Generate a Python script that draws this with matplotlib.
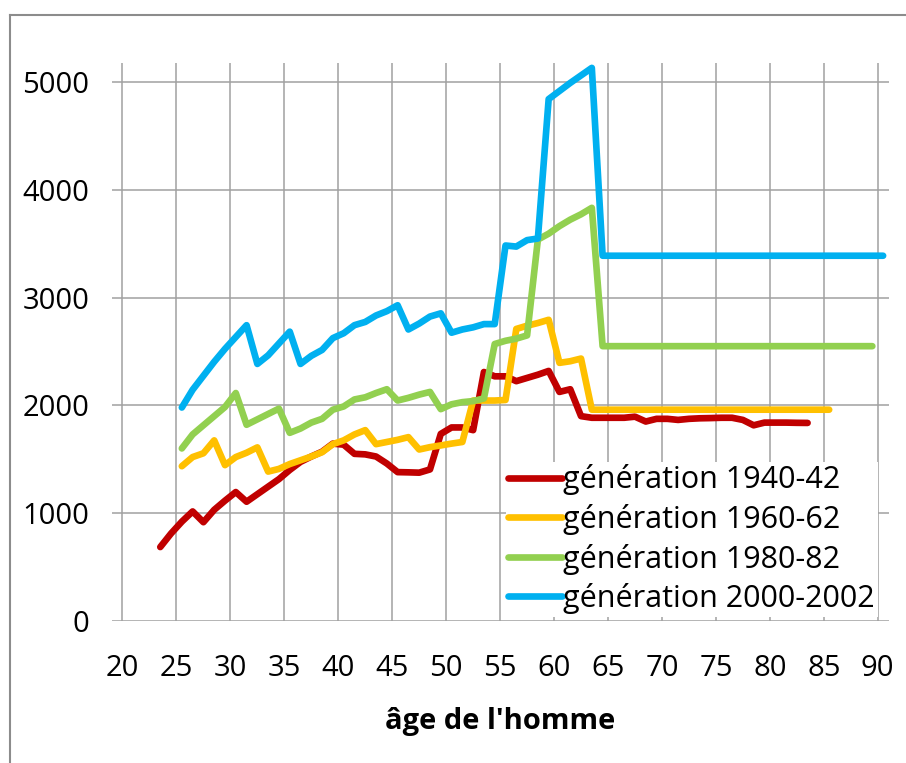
import numpy as np
import matplotlib.pyplot as plt
from matplotlib.lines import Line2D

plt.rcParams['font.family'] = ['Open Sans', 'DejaVu Sans']

# ages (milieu de l'annee d'age)
ages_1940 = np.arange(23, 84) + 0.5
ages_1960 = np.arange(25, 86) + 0.5
ages_1980 = np.arange(25, 90) + 0.5
ages_2000 = np.arange(25, 91) + 0.5

gen_1940 = [684, 810, 920, 1015, 915, 1030, 1115, 1195, 1105, 1175, 1245, 1315,
            1400, 1475, 1525, 1570, 1645, 1635, 1550, 1545, 1525, 1460, 1380, 1378,
            1375, 1405, 1735, 1795, 1795, 1770, 2310, 2270, 2270, 2225, 2255, 2285,
            2320, 2125, 2150, 1900, 1885, 1885, 1885, 1885, 1895, 1850, 1875, 1875,
            1865, 1875, 1880, 1882, 1885, 1885, 1865, 1815, 1840, 1840, 1840, 1838, 1837]
gen_1960 = [1435, 1520, 1555, 1675, 1445, 1520, 1560, 1610, 1385, 1410, 1455, 1490,
            1525, 1565, 1640, 1675, 1730, 1770, 1640, 1660, 1680, 1705, 1590, 1612,
            1628, 1645, 1660, 2045, 2045, 2045, 2050, 2710, 2740, 2765, 2795, 2395,
            2410, 2435] + [1960] * 23
gen_1980 = [1600, 1730, 1815, 1900, 1985, 2115, 1820, 1870, 1920, 1970, 1745, 1785,
            1840, 1875, 1960, 1990, 2055, 2075, 2115, 2150, 2045, 2070, 2100, 2125,
            1965, 2010, 2030, 2040, 2065, 2570, 2600, 2620, 2650, 3540, 3595, 3665,
            3725, 3775, 3835] + [2550] * 26
gen_2000 = [1980, 2145, 2275, 2405, 2525, 2635, 2745, 2385, 2465, 2575, 2685, 2385,
            2460, 2515, 2625, 2670, 2745, 2775, 2835, 2875, 2930, 2705, 2760, 2825,
            2855, 2675, 2705, 2725, 2755, 2755, 3485, 3475, 3535, 3550, 4845, 4920,
            4995, 5065, 5135] + [3390] * 27

series = [
    (ages_1940, gen_1940, '#C00000', 'génération 1940-42'),
    (ages_1960, gen_1960, '#FFC000', 'génération 1960-62'),
    (ages_1980, gen_1980, '#92D050', 'génération 1980-82'),
    (ages_2000, gen_2000, '#00B0F0', 'génération 2000-2002'),
]

fig = plt.figure(figsize=(9.06, 7.63), dpi=100)
ax = fig.add_axes([0.1233, 0.1865, 0.858, 0.7309])

for x, y, c, lab in series:
    ax.plot(x, y, color=c, lw=4.8, label=lab, solid_capstyle='round',
            solid_joinstyle='round')

ax.set_xlim(19, 91.05)
ax.set_ylim(0, 5180)
ax.set_xticks(np.arange(20, 91, 5))
ax.set_yticks(np.arange(0, 5001, 1000))
ax.grid(True, color='#a0a0a0', lw=1.1)
ax.set_axisbelow(True)
for s in ax.spines.values():
    s.set_visible(False)
ax.tick_params(axis='both', length=0, labelsize=21, colors='black')
ax.tick_params(axis='x', pad=24)
ax.tick_params(axis='y', pad=16)
ax.set_xlabel("âge de l'homme", fontsize=21, fontweight='bold', labelpad=17)

leg = ax.legend(loc='upper left', bbox_to_anchor=(506 / 906, 1 - 462 / 763),
                bbox_transform=fig.transFigure, fontsize=22, frameon=True,
                facecolor='white', edgecolor='none', framealpha=1, fancybox=False,
                handlelength=1.75, handletextpad=0.05, labelspacing=0.28,
                borderpad=0.08, borderaxespad=0)

# cadre du graphique (coupe a droite et en bas)
fig.add_artist(Line2D([10 / 906, 10 / 906], [0, 1 - 15 / 763], color='#8c8c8c', lw=1.5))
fig.add_artist(Line2D([10 / 906, 1], [1 - 15 / 763, 1 - 15 / 763], color='#8c8c8c', lw=1.5))

plt.savefig('out.png', dpi=100)
